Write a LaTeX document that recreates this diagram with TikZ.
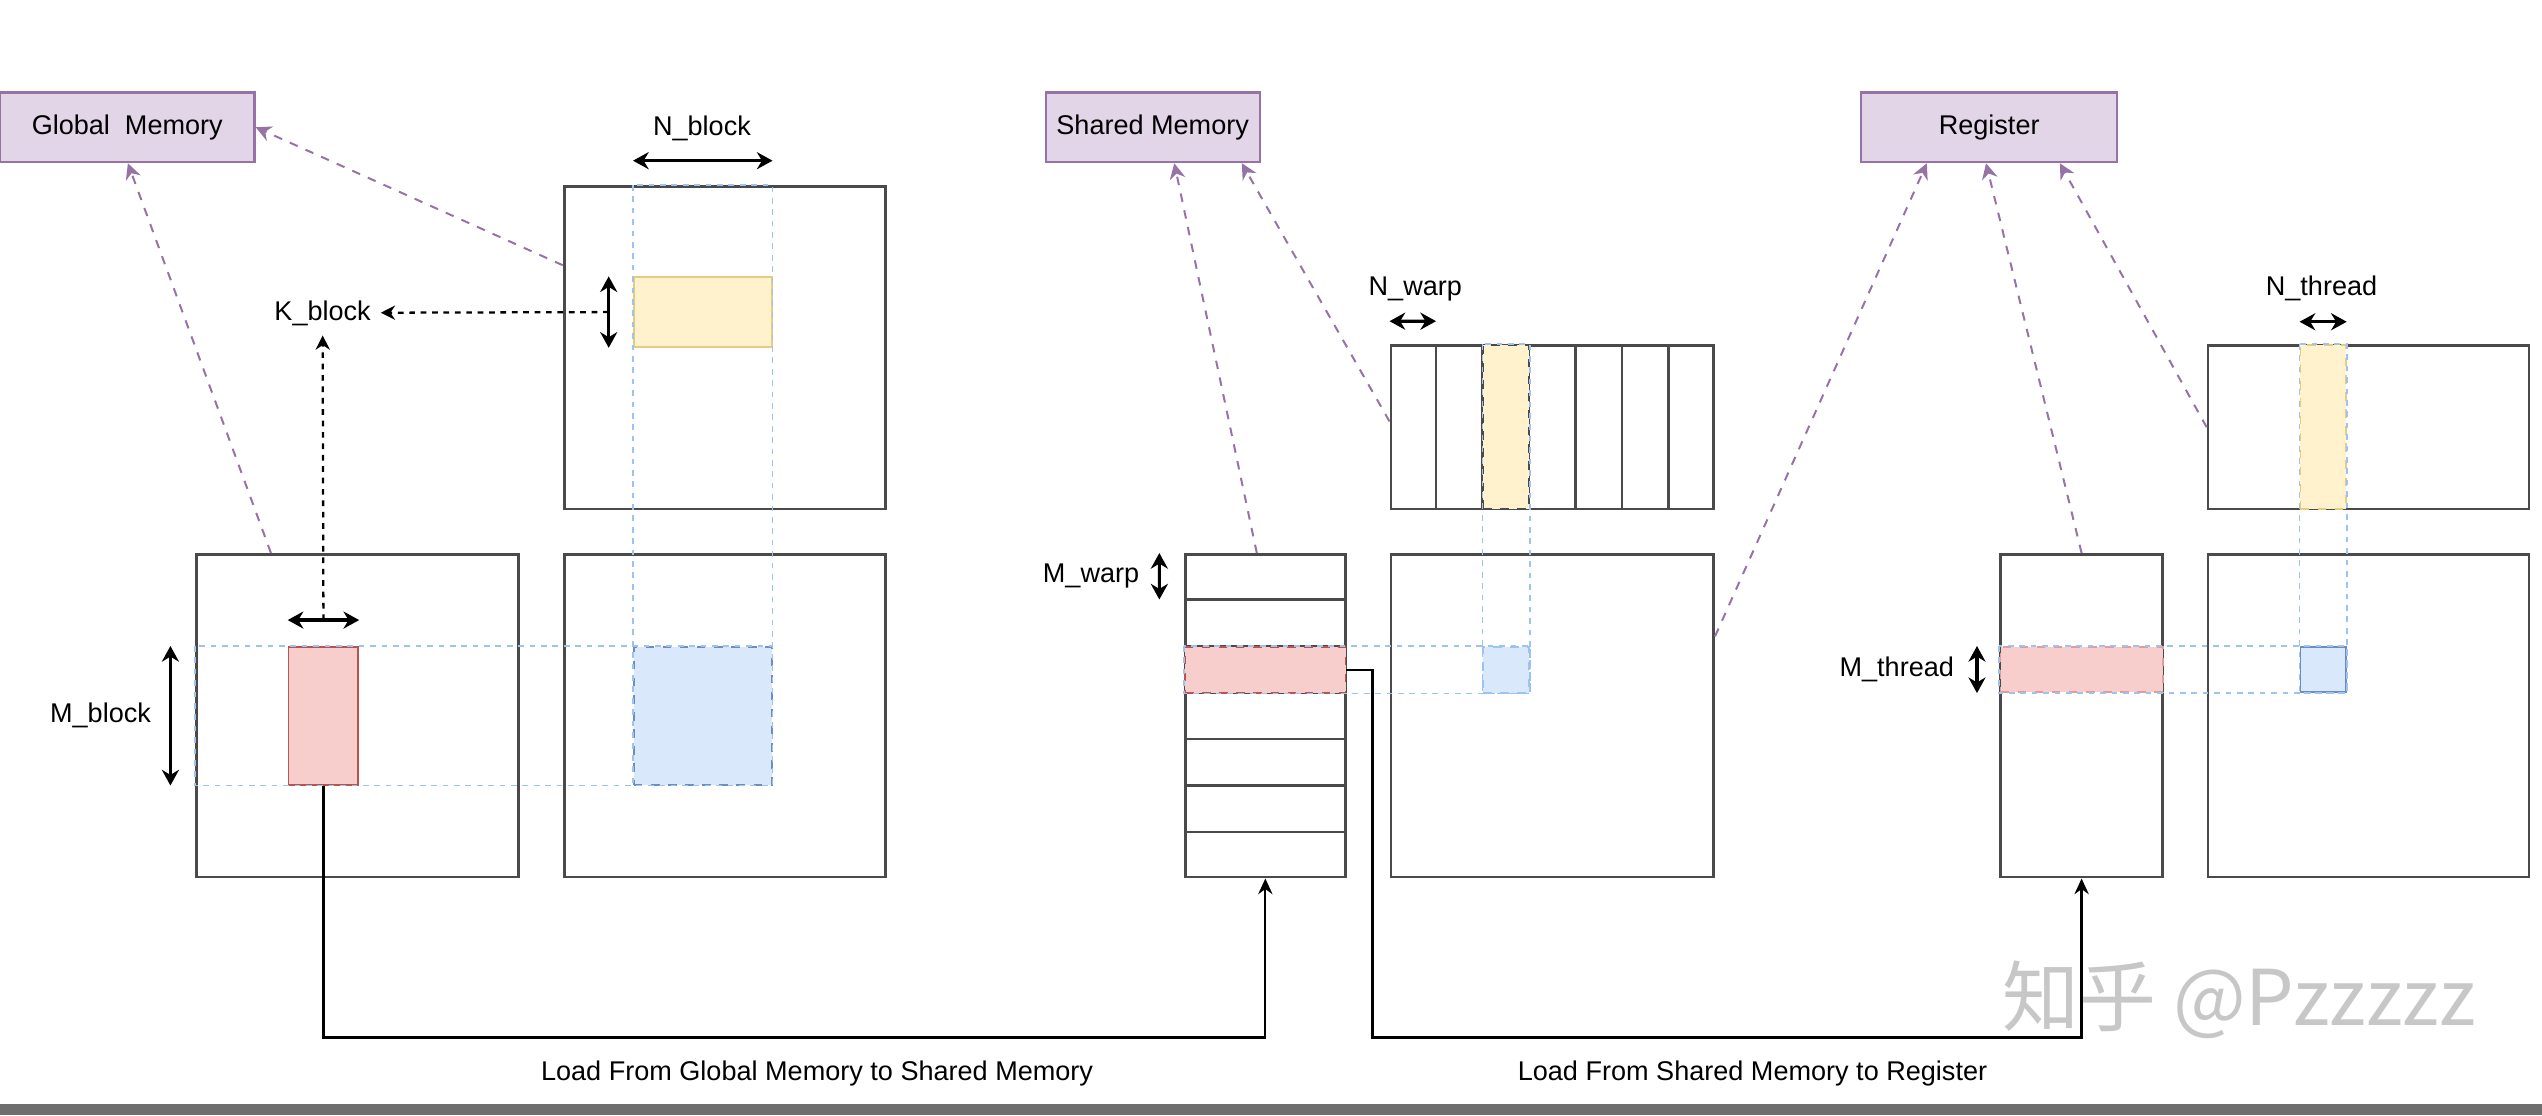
\documentclass[tikz,border=0pt]{standalone}
\usepackage{fontspec}
\setmainfont{Liberation Sans}
\newfontfamily\cjk{Noto Sans CJK SC}
\usetikzlibrary{positioning,fit,calc,arrows.meta}
\definecolor{tagfill}{HTML}{E1D5E7}
\definecolor{tagline}{HTML}{9673A6}
\definecolor{redfill}{HTML}{F8CECC}
\definecolor{redline}{HTML}{B85450}
\definecolor{yelfill}{HTML}{FFF2CC}
\definecolor{yelline}{HTML}{E6CC80}
\definecolor{bluefill}{HTML}{DAE8FC}
\definecolor{blueline}{HTML}{6C8EBF}
\definecolor{guideblue}{HTML}{9CC3F2}
\definecolor{matline}{HTML}{4A4A4A}
\definecolor{bargray}{HTML}{6E6E6E}

\begin{document}
\begin{tikzpicture}[x=0.2mm, y=-0.2mm, font=\fontsize{9.5}{11}\selectfont,
  mat/.style = {draw=matline, line width=1pt, inner sep=0pt},
  memtag/.style = {draw=tagline, fill=tagfill, line width=0.8pt, minimum height=8.6mm},
  redbox/.style = {fill=redfill, draw=redline, line width=0.6pt, inner sep=0pt},
  yelbox/.style = {fill=yelfill, draw=yelline, line width=0.6pt, inner sep=0pt},
  bluebox/.style = {fill=bluefill, draw=blueline, line width=0.6pt, inner sep=0pt},
  guide/.style = {draw=guideblue, line width=0.6pt, dash pattern=on 2pt off 2pt},
  dim/.style = {{Stealth[length=5.5pt,width=6pt]}-{Stealth[length=5.5pt,width=6pt]}, line width=1.1pt},
  kdash/.style = {-{Stealth[length=5pt,width=5pt]}, line width=0.8pt, dash pattern=on 2pt off 2pt},
  tagarrow/.style = {-{Stealth[length=5.5pt,width=5.5pt]}, draw=tagline, line width=0.7pt, dash pattern=on 3pt off 3pt},
  flow/.style = {-{Stealth[length=5.5pt,width=5pt]}, line width=0.8pt}]
\useasboundingbox (0,0) rectangle (1568,688);

\node[memtag, minimum width=31.4mm] (gm) at (78.5,78.5) {Global~ Memory};
\node[memtag, minimum width=26.4mm] (sm) at (711,78.5) {Shared Memory};
\node[memtag, minimum width=31.6mm] (rg) at (1227,78.5) {Register};

\node[mat, fit={(121,342) (320,541)}] (gA) {};
\node[mat, fit={(348,115) (546,314)}] (gB) {};
\node[mat, fit={(348,342) (546,541)}] (gC) {};
\node[redbox, fit={(178,399) (221,484)}] (gAr) {};
\node[yelbox, fit={(391,171) (476,214)}] (gBy) {};
\node[bluebox, dashed, fit={(391,399) (476,484)}] (gCb) {};
\draw[guide] (gB.north -| gBy.west) rectangle (gCb.south east);
\draw[guide] (gA.west |- gCb.north) rectangle (gCb.south east);

\node (nb) at (433,79) {N\_block};
\node (kb) at (199,193) {K\_block};
\node (mb) at (62,441) {M\_block};
\draw[dim] ($(gBy.west |- gB.north)+(0,-15)$) -- ($(gBy.east |- gB.north)+(0,-15)$);
\draw[dim] ($(gBy.north west)+(-15,0)$) -- ($(gBy.south west)+(-15,0)$);
\draw[kdash] ($(gBy.west)+(-15,0)$) -- (kb);
\draw[dim] ($(gAr.north west)+(0,-16)$) -- ($(gAr.north east)+(0,-16)$);
\draw[kdash] ($(gAr.north)+(0,-16)$) -- (kb);
\draw[dim] ($(gA.west |- gAr.north)+(-15,0)$) -- ($(gA.west |- gAr.south)+(-15,0)$);
\draw[tagarrow] (gA.118) -- (gm.-89);
\draw[tagarrow] (gB.153) -- (gm.east);

\node[mat, fit={(731,342) (830,541)}] (sA) {};
\node[mat, fit={(858,213) (1057,314)}] (sB) {};
\node[mat, fit={(858,342) (1057,541)}] (sC) {};
\foreach \i in {1,...,6} {
  \draw[draw=matline, line width=1pt] ($(sA.north west)!\i/7!(sA.south west)$) -- ($(sA.north east)!\i/7!(sA.south east)$);
  \draw[draw=matline, line width=1pt] ($(sB.north west)!\i/7!(sB.north east)$) -- ($(sB.south west)!\i/7!(sB.south east)$);
}
\node[redbox, dashed, fit={(731,398.9) (830,427.3)}] (sAr) {};
\node[yelbox, draw=matline, dashed, fit={(914.9,213) (943.3,314)}] (sBy) {};
\node[bluebox, draw=guideblue, dashed, fit={(914.9,398.9) (943.3,427.3)}] (sCb) {};
\draw[guide] (sB.north -| sBy.west) rectangle (sCb.south east);
\draw[guide] (sA.west |- sCb.north) rectangle (sCb.south east);

\node (nw) at (873,178) {N\_warp};
\node (mw) at (673,355) {M\_warp};
\draw[dim] ($(sB.north west)+(0,-14)$) -- ($(sB.north west)!1/7!(sB.north east)+(0,-14)$);
\draw[dim] ($(sA.north west)+(-15,0)$) -- ($(sA.north west)!1/7!(sA.south west)+(-15,0)$);
\draw[tagarrow] (sA.93) -- (sm.-59);
\draw[tagarrow] (sB.178) -- (sm.-22);
\draw[tagarrow] (sC.26) -- (rg.-150);

\node[mat, fit={(1234,342) (1334,541)}] (rA) {};
\node[mat, fit={(1362,213) (1560,314)}] (rB) {};
\node[mat, fit={(1362,342) (1560,541)}] (rC) {};
\node[redbox, draw=redfill!60!redline, dashed, fit={(1234,399) (1334,427)}] (rAr) {};
\node[yelbox, dashed, fit={(1419,213) (1447,314)}] (rBy) {};
\node[bluebox, fit={(1419,399) (1447,427)}] (rCb) {};
\draw[guide] (rB.north -| rBy.west) rectangle (rCb.south east);
\draw[guide] (rA.west |- rCb.north) rectangle (rCb.south east);

\node (nt) at (1432,178) {N\_thread};
\node (mt) at (1170,413) {M\_thread};
\draw[dim] ($(rBy.north west)+(0,-14)$) -- ($(rBy.north east)+(0,-14)$);
\draw[dim] ($(rAr.north west)+(-14,0)$) -- ($(rAr.south west)+(-14,0)$);
\draw[tagarrow] (rA.north) -- (rg.-95);
\draw[tagarrow] (rB.west) -- (rg.-27);

\coordinate (low) at (0,640);
\draw[flow] (gAr.south) -- (gAr.south |- low) -| (sA.south);
\draw[flow] (sAr.east) -- ++(16,0) |- (rA.south |- low) -- (rA.south);
\node (ld1) at (504,662) {Load From Global Memory to Shared Memory};
\node (ld2) at (1081,662) {Load From Shared Memory to Register};

\node[text=black!22, font=\cjk\fontsize{27}{30}\selectfont] (wm) at (1381,617) {知乎 @Pzzzzz};
\fill[bargray] (0,681) rectangle (1568,688);

\end{tikzpicture}
\end{document}
